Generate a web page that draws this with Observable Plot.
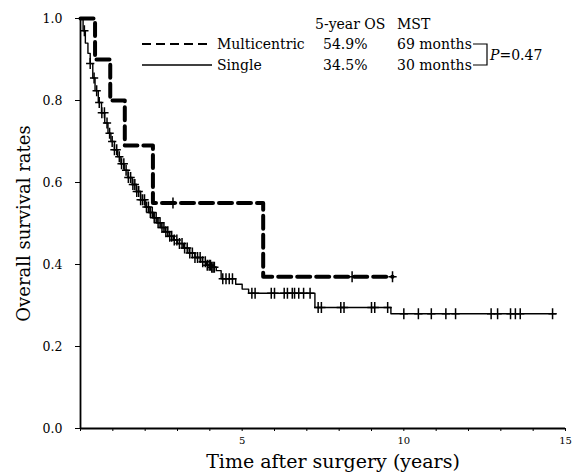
<!DOCTYPE html>
<html><head><meta charset="utf-8">
<script src="https://cdn.jsdelivr.net/npm/d3@7"></script>
<script src="https://cdn.jsdelivr.net/npm/@observablehq/plot@0.6"></script>
<style>
body{margin:0;background:#fff;}
#chart{width:582px;height:474px;}
</style></head><body><div id="chart"></div>
<script>
// Multicentric group: step times (years) and survival after each step
const multiTime = [0, 0.45, 0.92, 1.37, 2.24, 5.65, 9.65];
const multiSurv = [1.0, 0.90, 0.80, 0.69, 0.55, 0.37, 0.37];
const multiCensor = [2.86, 8.4, 9.65];

// Single group
const singleTime = [0, 0.08, 0.15, 0.23, 0.3, 0.38, 0.45, 0.55, 0.65, 0.75, 0.85, 0.94, 1.05, 1.15, 1.25, 1.35, 1.47, 1.6, 1.73, 1.86, 2.0, 2.12, 2.25, 2.37, 2.49, 2.62, 2.75, 2.87, 3.0, 3.18, 3.36, 3.54, 3.72, 3.9, 4.04, 4.2, 4.35, 4.8, 5.0, 5.2, 7.25, 9.6, 14.7];
const singleSurv = [1.0, 0.97, 0.94, 0.915, 0.89, 0.855, 0.824, 0.795, 0.77, 0.745, 0.72, 0.70, 0.68, 0.663, 0.646, 0.63, 0.612, 0.595, 0.578, 0.558, 0.54, 0.527, 0.514, 0.502, 0.49, 0.48, 0.469, 0.46, 0.451, 0.44, 0.428, 0.417, 0.407, 0.398, 0.393, 0.385, 0.365, 0.352, 0.34, 0.33, 0.295, 0.28, 0.28];
const singleCensor = [0.12, 0.3, 0.42, 0.5, 0.58, 0.66, 0.74, 0.82, 0.9, 0.98, 1.05, 1.12, 1.2, 1.27, 1.34, 1.41, 1.48, 1.55, 1.62, 1.68, 1.74, 1.8, 1.86, 1.92, 1.98, 2.04, 2.1, 2.16, 2.22, 2.28, 2.34, 2.4, 2.46, 2.52, 2.58, 2.64, 2.7, 2.76, 2.82, 2.9, 2.98, 3.06, 3.14, 3.22, 3.3, 3.38, 3.46, 3.54, 3.62, 3.7, 3.78, 3.86, 3.92, 3.98, 4.02, 4.06, 4.1, 4.14, 4.4, 4.5, 4.6, 4.7, 5.3, 5.4, 5.9, 6.0, 6.3, 6.4, 6.55, 6.62, 6.75, 6.9, 7.1, 7.35, 7.45, 8.05, 8.15, 9.0, 9.1, 9.5, 10.0, 10.45, 10.85, 11.3, 11.6, 12.7, 12.9, 13.3, 13.45, 13.6, 14.6];

const xTickValues = [0,1,2,3,4,5,6,7,8,9,10,11,12,13,14,15];
const xTickLabels = [5, 10, 15];
const yTickValues = [0, 0.2, 0.4, 0.6, 0.8, 1.0];
const xLabel = "Time after surgery (years)";
const yLabel = "Overall survival rates";

const legendGroups = ["Multicentric", "Single"];
const legendOS = ["54.9%", "34.5%"];
const legendMST = ["69 months", "30 months"];
const legendHeader = ["5-year OS", "MST"];
const pText = "0.47";

const FONT = "DejaVu Serif, Liberation Serif, serif";

function toRows(times, survs) { return times.map((t, i) => ({t, s: survs[i]})); }
function survAt(times, survs, t) { const i = d3.bisectRight(times, t) - 1; return survs[Math.max(0, i)]; }
function censorRows(c, times, survs) { return c.map(t => ({t, s: survAt(times, survs, t)})); }

const censorSymbol = {
  draw(ctx, size) {
    const r = Math.sqrt(size / Math.PI);
    ctx.moveTo(0, -r); ctx.lineTo(0, r);
    ctx.moveTo(-r * 0.75, 0); ctx.lineTo(r * 0.75, 0);
  }
};

const multi = toRows(multiTime, multiSurv);
const single = toRows(singleTime, singleSurv);

const plot = Plot.plot({
  width: 582, height: 474,
  marginLeft: 80, marginRight: 17, marginTop: 18, marginBottom: 46,
  x: {domain: [0, 15]},
  y: {domain: [0, 1]},
  style: {fontFamily: FONT, background: "#fff"},
  marks: [
    Plot.axisY({ticks: yTickValues, tickFormat: d3.format(".1f"), tickSize: 5, tickPadding: 13, fontSize: 12.5, label: null}),
    Plot.axisX({ticks: xTickValues, tickFormat: d => xTickLabels.includes(d) ? String(d) : "", tickSize: 3, tickPadding: 5, fontSize: 10, label: null}),
    Plot.ruleX([0], {strokeWidth: 1.8}),
    Plot.ruleY([0], {strokeWidth: 1.8}),
    Plot.line(single, {x: "t", y: "s", curve: "step-after", stroke: "#000", strokeWidth: 1.4}),
    Plot.dot(censorRows(singleCensor, singleTime, singleSurv), {x: "t", y: "s", symbol: censorSymbol, r: 5.5, stroke: "#000", strokeWidth: 1.5, fill: "none"}),
    Plot.line(multi, {x: "t", y: "s", curve: "step-after", stroke: "#000", strokeWidth: 4, strokeDasharray: "13,6"}),
    Plot.dot(censorRows(multiCensor, multiTime, multiSurv), {x: "t", y: "s", symbol: censorSymbol, r: 5.5, stroke: "#000", strokeWidth: 1.5, fill: "none"}),
    Plot.text([yLabel], {text: d => d, frameAnchor: "left", textAnchor: "middle", lineAnchor: "middle", rotate: -90, dx: -56, fontSize: 18}),
    Plot.text([xLabel], {text: d => d, frameAnchor: "bottom", textAnchor: "middle", lineAnchor: "middle", dx: 10, dy: 33, fontSize: 19})
  ]
});
document.getElementById("chart").append(plot);

// legend overlay inside the svg
const svg = d3.select(plot);
const g = svg.append("g").attr("font-family", FONT).attr("font-size", 14).attr("fill", "#000").attr("text-anchor", "start");
g.append("text").attr("x", 315).attr("y", 29).text(legendHeader[0]);
g.append("text").attr("x", 397).attr("y", 29).text(legendHeader[1]);
const rowY = [44, 65];
const dashes = ["9,5", null];
legendGroups.forEach((name, i) => {
  const ln = g.append("line").attr("x1", 142).attr("x2", 212).attr("y1", rowY[i]).attr("y2", rowY[i])
    .attr("stroke", "#000").attr("stroke-width", i === 0 ? 2 : 1.5);
  if (dashes[i]) ln.attr("stroke-dasharray", dashes[i]);
  g.append("text").attr("x", 217).attr("y", rowY[i] + 5).text(name);
  g.append("text").attr("x", 323).attr("y", rowY[i] + 5).text(legendOS[i]);
  g.append("text").attr("x", 397).attr("y", rowY[i] + 5).text(legendMST[i]);
});
g.append("path").attr("d", `M473,${rowY[0]}H487V${rowY[1]}H473`).attr("fill", "none").attr("stroke", "#000").attr("stroke-width", 1.2);
const pt = g.append("text").attr("x", 490).attr("y", (rowY[0] + rowY[1]) / 2 + 5);
pt.append("tspan").attr("font-style", "italic").text("P");
pt.append("tspan").text("=" + pText);
</script></body></html>
